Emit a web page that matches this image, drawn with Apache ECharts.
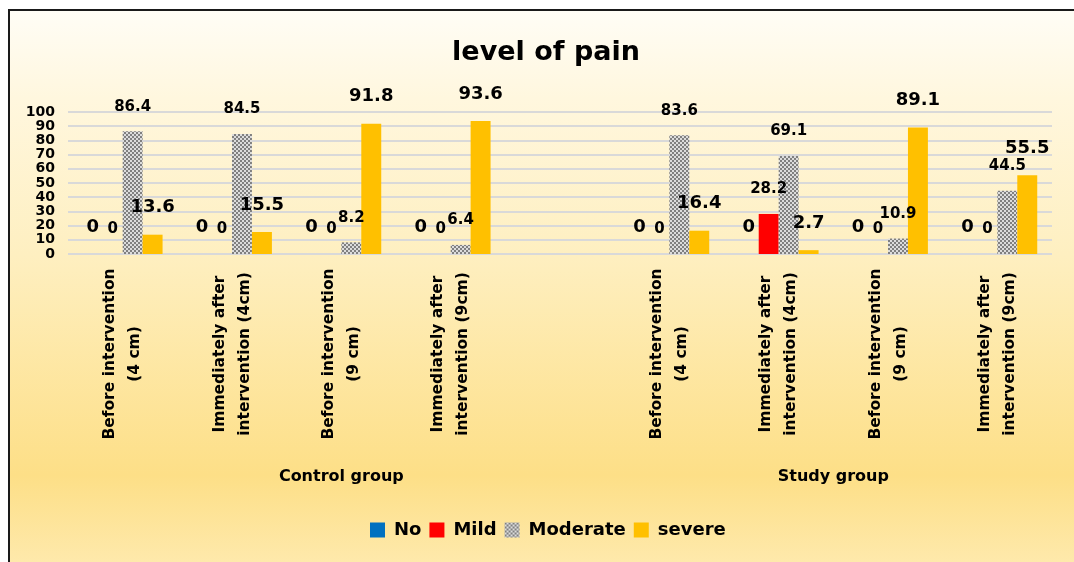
<!DOCTYPE html>
<html>
<head>
<meta charset="utf-8">
<title>level of pain</title>
<script src="https://cdn.jsdelivr.net/npm/echarts@6/dist/echarts.min.js"></script>
<style>
  html, body { margin: 0; padding: 0; background: #fff; }
  #chart { width: 1074px; height: 562px; }
</style>
</head>
<body>
<div id="chart"></div>
<script>
// categories (5th slot is the blank gap belonging to the control group)
const categories = [
  'Before intervention\n(4 cm)',
  'Immediately after\nintervention (4cm)',
  'Before intervention\n(9 cm)',
  'Immediately after\nintervention (9cm)',
  '',
  'Before intervention\n(4 cm)',
  'Immediately after\nintervention (4cm)',
  'Before intervention\n(9 cm)',
  'Immediately after\nintervention (9cm)'
]
const groupNames = ['Control group', 'Study group']
const groupSpans = [5, 4]

const noVals = [0, 0, 0, 0, '-', 0, 0, 0, 0]
const mildVals = [0, 0, 0, 0, '-', 0, 28.2, 0, 0]
const moderateVals = [86.4, 84.5, 8.2, 6.4, '-', 83.6, 69.1, 10.9, 44.5]
const severeVals = [13.6, 15.5, 91.8, 93.6, '-', 16.4, 2.7, 89.1, 55.5]

const FONT = 'DejaVu Sans'

// group label positions on a 0..n value axis
const groupCenters = {}
let acc = 0
groupSpans.forEach((s, i) => {
  groupCenters[acc + s / 2] = groupNames[i]
  acc += s
})

// checker pattern for "Moderate"
const pat = document.createElement('canvas')
pat.width = 4
pat.height = 4
const pc = pat.getContext('2d')
pc.fillStyle = '#dcdcdc'
pc.fillRect(0, 0, 4, 4)
pc.fillStyle = '#808080'
pc.fillRect(0, 0, 2, 2)
pc.fillRect(2, 2, 2, 2)

function barLabel(size, dist) {
  return {
    show: true,
    position: 'top',
    distance: dist,
    color: '#000',
    fontFamily: FONT,
    fontWeight: 'bold',
    fontSize: size
  }
}

const myChart = echarts.init(document.getElementById('chart'))
const option = {
  animation: false,
  textStyle: { fontFamily: FONT },
  graphic: [{
    type: 'rect',
    z: -10,
    shape: { x: 9, y: 10, width: 1080, height: 560 },
    style: {
      fill: new echarts.graphic.LinearGradient(0, 0, 0, 1, [
        { offset: 0, color: '#fffdf6' },
        { offset: 0.16, color: '#fff7de' },
        { offset: 0.44, color: '#feefc0' },
        { offset: 0.83, color: '#fddf87' },
        { offset: 1, color: '#feeaaf' }
      ]),
      stroke: '#1a1a1a',
      lineWidth: 2
    }
  }],
  title: {
    text: 'level of pain',
    left: 541,
    top: 34,
    textAlign: 'center',
    textStyle: {
      fontFamily: FONT,
      fontWeight: 'bold',
      fontSize: 27,
      color: '#000'
    }
  },
  legend: {
    left: 365,
    top: 516,
    itemWidth: 15,
    itemHeight: 15,
    itemGap: 8,
    icon: 'rect',
    textStyle: {
      fontFamily: FONT,
      fontWeight: 'bold',
      fontSize: 18,
      color: '#000',
      padding: [0, 0, 0, 4]
    },
    data: ['No', 'Mild', 'Moderate', 'severe']
  },
  grid: { left: 68, right: 22, top: 112, bottom: 308 },
  xAxis: [
    {
      type: 'category',
      data: categories,
      axisLine: { show: false },
      axisTick: { show: false },
      axisLabel: {
        interval: 0,
        rotate: 90,
        align: 'center',
        verticalAlign: 'middle',
        margin: 100,
        lineHeight: 25,
        color: '#000',
        fontFamily: FONT,
        fontWeight: 'bold',
        fontSize: 15.5
      }
    },
    {
      type: 'value',
      position: 'bottom',
      min: 0,
      max: categories.length,
      interval: 0.5,
      axisLine: { show: false },
      axisTick: { show: false },
      splitLine: { show: false },
      axisLabel: {
        margin: 215,
        color: '#000',
        fontFamily: FONT,
        fontWeight: 'bold',
        fontSize: 16,
        formatter: v => groupCenters[v] || ''
      }
    }
  ],
  yAxis: {
    type: 'value',
    min: 0,
    max: 100,
    interval: 10,
    axisLine: { show: false },
    axisTick: { show: false },
    splitLine: { lineStyle: { color: '#d9d9d9', width: 2 } },
    axisLabel: {
      margin: 13,
      color: '#000',
      fontFamily: FONT,
      fontWeight: 'bold',
      fontSize: 14
    }
  },
  series: [
    {
      name: 'No',
      type: 'bar',
      barGap: 0,
      barCategoryGap: '27%',
      data: noVals,
      itemStyle: { color: '#0070c0' },
      label: barLabel(18, 18)
    },
    {
      name: 'Mild',
      type: 'bar',
      data: mildVals,
      itemStyle: { color: '#ff0000' },
      label: barLabel(15, 17)
    },
    {
      name: 'Moderate',
      type: 'bar',
      data: moderateVals,
      itemStyle: { color: { image: pat, repeat: 'repeat' } },
      label: barLabel(15, 17)
    },
    {
      name: 'severe',
      type: 'bar',
      data: severeVals,
      itemStyle: { color: '#ffc000' },
      label: barLabel(18, 18)
    }
  ]
}
myChart.setOption(option)
window.addEventListener('resize', () => { myChart.resize() })
</script>
</body>
</html>
